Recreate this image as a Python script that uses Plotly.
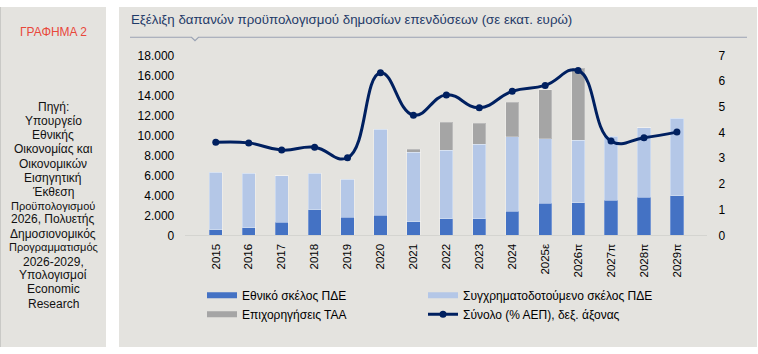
import plotly.graph_objects as go

W, H = 758, 354

years = ["2015", "2016", "2017", "2018", "2019", "2020", "2021", "2022", "2023",
         "2024", "2025ε", "2026π", "2027π", "2028π", "2029π"]
national = [580, 740, 1290, 2570, 1830, 1990, 1350, 1640, 1640, 2410, 3210, 3240, 3530, 3820, 3950]
cofinanced = [5740, 5490, 4650, 3630, 3790, 8630, 6990, 6900, 7470, 7470, 6480, 6260, 6380, 6930, 7760]
rrf = [0, 0, 0, 0, 0, 0, 290, 2790, 2090, 3440, 4880, 7220, 0, 0, 0]
total_gdp = [3.62, 3.60, 3.32, 3.43, 3.02, 6.33, 4.68, 5.47, 4.97, 5.61, 5.84, 6.42, 3.67, 3.80, 4.02]

source_lines = [
    ("Πηγή:", 12), ("Υπουργείο", 12), ("Εθνικής", 12), ("Οικονομίας και", 12),
    ("Οικονομικών", 12), ("Εισηγητική", 12), ("Έκθεση", 12), ("Προϋπολογισμού", 11),
    ("2026, Πολυετής", 12), ("Δημοσιονομικός", 12), ("Προγραμματισμός", 11),
    ("2026-2029,", 12), ("Υπολογισμοί", 12), ("Economic", 12), ("Research", 12),
]
source_y = [104, 119, 133, 148, 163, 178, 193, 207, 221, 236, 250, 265, 279, 294, 309]

FONT = "Liberation Sans, Arial, sans-serif"
BG = "#E4E3DF"
C_NAT = "#4472C4"
C_COF = "#B4C7E7"
C_RRF = "#A5A5A5"
C_LINE = "#002060"

def px(x):
    return x / W

def py(y):
    return 1 - y / H

fig = go.Figure()
fig.add_trace(go.Bar(x=years, y=national, name="Εθνικό σκέλος ΠΔΕ",
                     marker=dict(color=C_NAT, line=dict(color="rgba(255,255,255,0.25)", width=1)),
                     showlegend=False))
fig.add_trace(go.Bar(x=years, y=cofinanced, name="Συγχρηματοδοτούμενο σκέλος ΠΔΕ",
                     marker=dict(color=C_COF, line=dict(color="rgba(255,255,255,0.3)", width=1)),
                     showlegend=False))
fig.add_trace(go.Bar(x=years, y=rrf, name="Επιχορηγήσεις ΤΑΑ",
                     marker=dict(color=C_RRF, line=dict(color="rgba(255,255,255,0.25)", width=1)),
                     showlegend=False))
fig.add_trace(go.Scatter(x=years, y=total_gdp, name="Σύνολο (% ΑΕΠ), δεξ. άξονας",
                         mode="lines+markers", yaxis="y2",
                         line=dict(color=C_LINE, width=3, shape="spline", smoothing=1.3),
                         marker=dict(color=C_LINE, size=7),
                         legend="legend4"))

# legend entries for the bar series (wide flat swatches as in the original)
for name, col, lg in [("Εθνικό σκέλος ΠΔΕ", C_NAT, "legend"),
                      ("Συγχρηματοδοτούμενο σκέλος ΠΔΕ", C_COF, "legend2"),
                      ("Επιχορηγήσεις ΤΑΑ", C_RRF, "legend3")]:
    fig.add_trace(go.Scatter(x=[None], y=[None], mode="lines", name=name,
                             line=dict(color=col, width=6), legend=lg))

shapes = [
    dict(type="rect", xref="paper", yref="paper", x0=0, x1=px(106), y0=0, y1=1,
         fillcolor=BG, line=dict(width=0), layer="below"),
    dict(type="line", xref="paper", yref="paper", x0=px(0.5), x1=px(0.5), y0=0, y1=1,
         line=dict(color="#C9C9C6", width=1), layer="below"),
    dict(type="rect", xref="paper", yref="paper", x0=px(119), x1=px(757), y0=0, y1=1,
         fillcolor=BG, line=dict(width=0), layer="below"),
    dict(type="path", xref="paper", yref="paper",
         path=(f"M {px(130)},{py(31.5)} L {px(191.5)},{py(31.5)} L {px(195)},{py(35)} "
               f"L {px(198.5)},{py(31.5)} L {px(747)},{py(31.5)}"),
         line=dict(color="#9AA3B4", width=1.2), layer="below"),
]

annotations = [
    dict(text="ΓΡΑΦΗΜΑ 2", x=px(53), y=py(26), xref="paper", yref="paper",
         showarrow=False, xanchor="center", yanchor="middle",
         font=dict(family=FONT, size=12, color="#E8483B")),
    dict(text="Εξέλιξη δαπανών προϋπολογισμού δημοσίων επενδύσεων (σε εκατ. ευρώ)",
         x=px(129), y=py(13.5), xref="paper", yref="paper", showarrow=False,
         xanchor="left", yanchor="middle",
         font=dict(family=FONT, size=13.3, color="#1F3A68")),
]
for (txt, sz), yy in zip(source_lines, source_y):
    annotations.append(dict(text=txt, x=px(53), y=py(yy), xref="paper", yref="paper",
                            showarrow=False, xanchor="center", yanchor="middle",
                            font=dict(family=FONT, size=sz, color="#111111")))

def leg(x, y):
    return dict(orientation="h", x=px(x), y=py(y), xanchor="left", yanchor="middle",
                bgcolor="rgba(0,0,0,0)", font=dict(size=12, family=FONT), itemwidth=30)

fig.update_layout(
    width=W, height=H,
    margin=dict(l=0, r=0, t=0, b=0),
    paper_bgcolor="white",
    plot_bgcolor="rgba(0,0,0,0)",
    barmode="stack",
    bargap=0.6,
    separators=",.",
    font=dict(family=FONT, size=12, color="#000000"),
    xaxis=dict(domain=[px(185.3), px(707.4)], type="category", tickangle=-90,
               showline=True, linecolor="#D4D4D0", linewidth=1, showgrid=False,
               ticks="", tickfont=dict(size=11.5, family=FONT), ticklabelstandoff=3),
    yaxis=dict(domain=[py(237.7), py(50.6)], range=[0, 18000], dtick=2000,
               tickformat=",d", showgrid=False, zeroline=False, showline=False,
               ticks="", ticklabelstandoff=10, tickfont=dict(size=12, family=FONT)),
    yaxis2=dict(overlaying="y", side="right", range=[0, 7], dtick=1, showgrid=False,
                zeroline=False, showline=False, ticks="", ticklabelstandoff=10,
                tickfont=dict(size=12, family=FONT)),
    legend=leg(202, 300),
    legend2=leg(423, 300),
    legend3=leg(202, 320),
    legend4=leg(423, 320),
    shapes=shapes,
    annotations=annotations,
)

fig.write_html("out.html")
